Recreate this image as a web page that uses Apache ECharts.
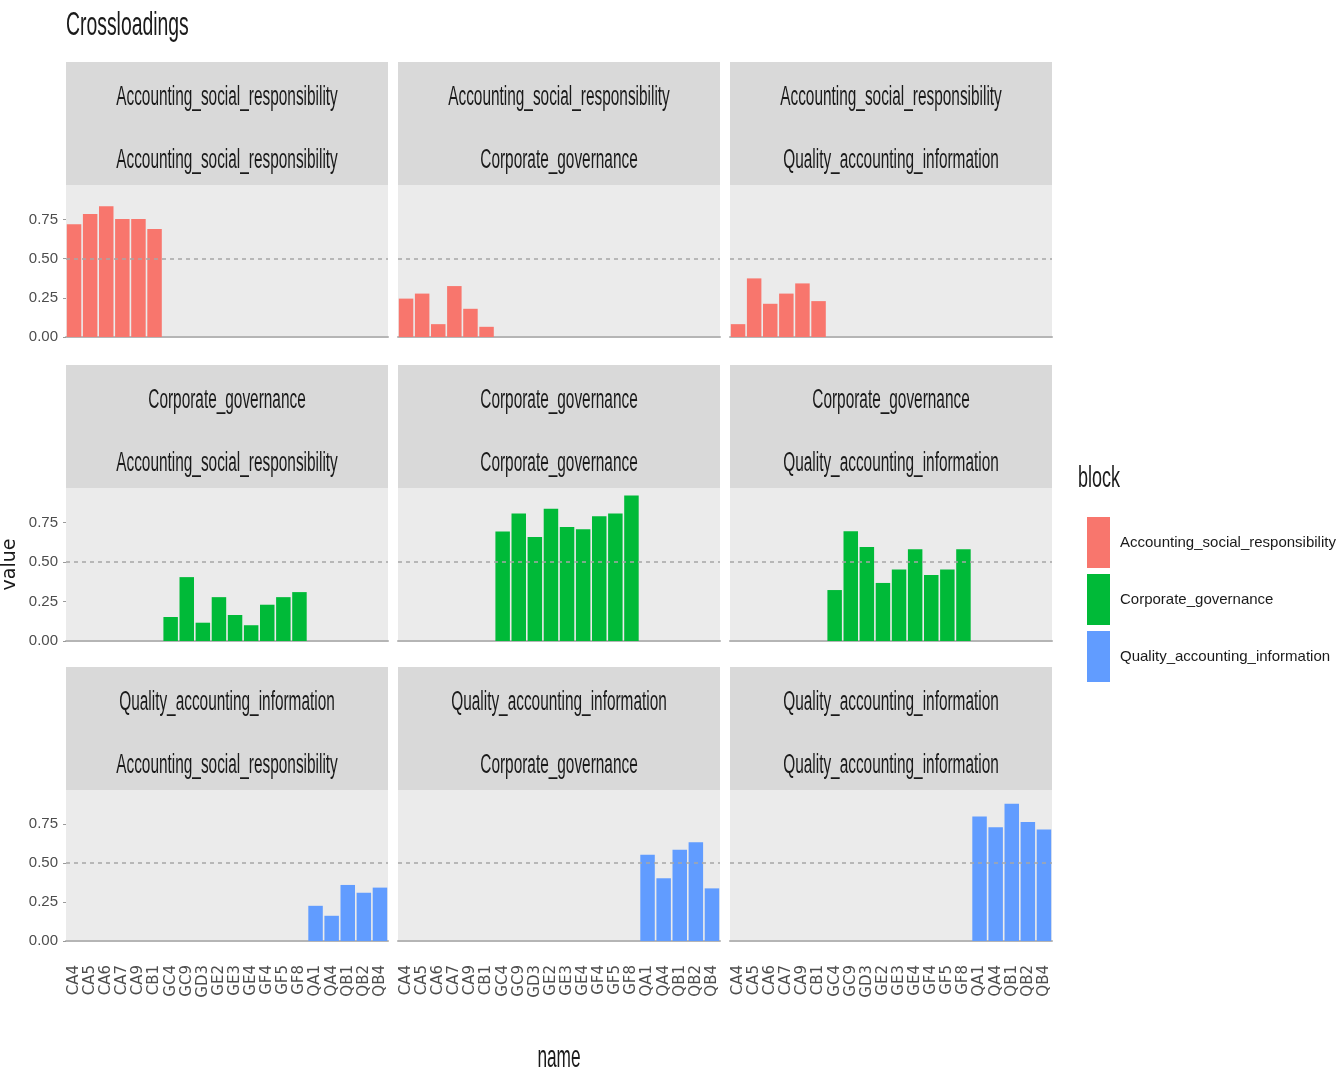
<!DOCTYPE html>
<html>
<head>
<meta charset="utf-8">
<script src="https://cdn.jsdelivr.net/npm/echarts@6/dist/echarts.min.js"></script>
<style>
html,body{margin:0;padding:0;background:#fff;}
#chart{width:1339px;height:1074px;}
</style>
</head>
<body>
<div id="chart"></div>
<script>
// ---- data ----
var chartTitle = 'Crossloadings';
var legendTitle = 'block';
var xTitle = 'name';
var yTitle = 'value';
var blocks = ['Accounting_social_responsibility', 'Corporate_governance', 'Quality_accounting_information'];
var names = ['CA4','CA5','CA6','CA7','CA9','CB1','GC4','GC9','GD3','GE2','GE3','GE4','GF4','GF5','GF8','QA1','QA4','QB1','QB2','QB4'];
var nameBlock = [0,0,0,0,0,0,1,1,1,1,1,1,1,1,1,2,2,2,2,2];
var blockColors = ['#F8766D', '#00BA38', '#619CFF'];
var yTicks = [0, 0.25, 0.5, 0.75];
var refLine = 0.5;

// loadings of each block's items (row) on each construct (column)
var asrOnASR = [0.72, 0.785, 0.835, 0.753, 0.753, 0.69];
var asrOnCG  = [0.245, 0.277, 0.082, 0.325, 0.18, 0.065];
var asrOnQAI = [0.082, 0.374, 0.212, 0.277, 0.342, 0.229];
var cgOnASR  = [0.152, 0.405, 0.116, 0.278, 0.165, 0.10, 0.23, 0.278, 0.31];
var cgOnCG   = [0.694, 0.809, 0.66, 0.838, 0.723, 0.709, 0.791, 0.809, 0.923];
var cgOnQAI  = [0.323, 0.696, 0.596, 0.368, 0.453, 0.581, 0.419, 0.453, 0.581];
var qaiOnASR = [0.226, 0.162, 0.36, 0.31, 0.343];
var qaiOnCG  = [0.554, 0.403, 0.586, 0.634, 0.338];
var qaiOnQAI = [0.80, 0.731, 0.881, 0.765, 0.716];

var panelValues = [
  [asrOnASR, asrOnCG, asrOnQAI],
  [cgOnASR, cgOnCG, cgOnQAI],
  [qaiOnASR, qaiOnCG, qaiOnQAI]
];

// ---- layout ----
var SANS = "'Liberation Sans',Arial,sans-serif";
var colLeft = [66, 398, 730];
var colW = 322;
var panelTop = [185, 488, 790];
var panelH = [152, 153, 151];
var stripH = 123;
var SQUASH = 0.57;

var chart = echarts.init(document.getElementById('chart'));

var grids = [], xAxes = [], yAxes = [], series = [], graphics = [];

for (var r = 0; r < 3; r++) {
  for (var c = 0; c < 3; c++) {
    var idx = r * 3 + c;
    grids.push({left: colLeft[c], top: panelTop[r], width: colW, height: panelH[r],
      show: true, backgroundColor: '#EBEBEB', borderWidth: 0});
    xAxes.push({
      type: 'category', gridIndex: idx, data: names, boundaryGap: true,
      axisLine: {show: true, lineStyle: {color: '#B5B5B5', width: 2}},
      axisTick: {show: false},
      axisLabel: {show: r === 2, rotate: 90, interval: 0, fontFamily: "'DejaVu Sans',sans-serif",
        fontSize: 15, color: '#4D4D4D', margin: 24}
    });
    yAxes.push({
      type: 'value', gridIndex: idx, min: 0, max: 0.97,
      axisLine: {show: false},
      axisTick: {show: c === 0, length: 3, customValues: yTicks, lineStyle: {color: '#9a9a9a'}},
      splitLine: {show: false},
      axisLabel: {show: c === 0, customValues: yTicks, fontFamily: SANS, fontSize: 15,
        color: '#4D4D4D', margin: 8,
        formatter: function (v) { return v.toFixed(2); }},
      name: (r === 1 && c === 0) ? yTitle : '',
      nameLocation: 'middle', nameGap: 46, nameRotate: 90,
      nameTextStyle: {fontFamily: "'DejaVu Sans',sans-serif", fontSize: 19, color: '#1A1A1A'}
    });
    var vals = panelValues[r][c];
    var k = 0;
    var data = names.map(function (n, i) {
      return nameBlock[i] === r ? vals[k++] : '-';
    });
    series.push({
      type: 'bar', name: blocks[r], xAxisIndex: idx, yAxisIndex: idx,
      data: data, barCategoryGap: '10%',
      itemStyle: {color: blockColors[r]},
      emphasis: {disabled: true},
      markLine: {
        silent: true, symbol: 'none', label: {show: false},
        lineStyle: {color: '#A6A6A6', type: [4, 4], width: 1.5},
        data: [{yAxis: refLine}]
      }
    });
    // strip
    graphics.push({type: 'rect', left: colLeft[c], top: panelTop[r] - stripH, silent: true,
      shape: {width: colW, height: stripH}, style: {fill: '#D9D9D9'}});
    graphics.push({type: 'text', x: colLeft[c] + colW / 2, y: panelTop[r] - stripH + 36, scaleX: SQUASH, silent: true,
      style: {text: blocks[r], font: '27px ' + SANS, fill: '#1A1A1A', align: 'center', verticalAlign: 'middle'}});
    graphics.push({type: 'text', x: colLeft[c] + colW / 2, y: panelTop[r] - stripH + 99, scaleX: SQUASH, silent: true,
      style: {text: blocks[c], font: '27px ' + SANS, fill: '#1A1A1A', align: 'center', verticalAlign: 'middle'}});
  }
}

// titles
graphics.push({type: 'text', x: 66, y: 26, scaleX: SQUASH, silent: true,
  style: {text: chartTitle, font: '34px ' + SANS, fill: '#1A1A1A', align: 'left', verticalAlign: 'middle'}});
graphics.push({type: 'text', x: 1078, y: 479, scaleX: 0.6, silent: true,
  style: {text: legendTitle, font: '30px ' + SANS, fill: '#1A1A1A', align: 'left', verticalAlign: 'middle'}});
graphics.push({type: 'text', x: colLeft[1] + colW / 2, y: 1058, scaleX: 0.54, silent: true,
  style: {text: xTitle, font: '32px ' + SANS, fill: '#1A1A1A', align: 'center', verticalAlign: 'middle'}});

var option = {
  backgroundColor: '#FFFFFF',
  animation: false,
  legend: {
    data: blocks, orient: 'vertical', left: 1082, top: 512,
    icon: 'rect', itemWidth: 23, itemHeight: 51, itemGap: 6,
    selectedMode: false,
    textStyle: {fontFamily: SANS, fontSize: 15, color: '#1A1A1A', padding: [0, 0, 0, 5]}
  },
  grid: grids,
  xAxis: xAxes,
  yAxis: yAxes,
  series: series,
  graphic: graphics
};
chart.setOption(option);
</script>
</body>
</html>
